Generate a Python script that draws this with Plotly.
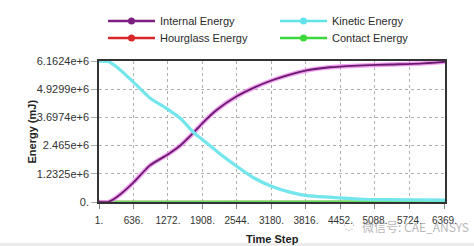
import plotly.graph_objects as go

# ---- data ----
time_step = [1, 170, 330, 630, 940, 1270, 1500, 1740, 1910, 2170, 2540, 2850, 3180,
             3520, 3830, 4260, 4440, 4870, 5370, 5920, 6380]
internal_energy = [0, 0, 0.22e6, 0.84e6, 1.60e6, 2.08e6, 2.47e6, 3.02e6, 3.45e6, 4.02e6,
                   4.62e6, 4.99e6, 5.31e6, 5.57e6, 5.75e6, 5.89e6, 5.92e6, 5.97e6,
                   6.01e6, 6.05e6, 6.13e6]
kinetic_energy = [6.16e6, 6.14e6, 5.90e6, 5.25e6, 4.55e6, 4.05e6, 3.66e6, 3.05e6, 2.72e6,
                  2.22e6, 1.56e6, 1.06e6, 0.69e6, 0.43e6, 0.28e6, 0.21e6, 0.18e6,
                  0.12e6, 0.10e6, 0.09e6, 0.08e6]
hourglass_energy = [0] * len(time_step)
contact_energy = [0, 0, 0.01e6, 0.02e6, 0.02e6, 0.02e6, 0.02e6, 0.02e6, 0.02e6, 0.02e6,
                  0.02e6, 0.02e6, 0.02e6, 0.02e6, 0.02e6, 0.02e6, 0.02e6, 0.02e6,
                  0.02e6, 0.02e6, 0.02e6]

x_ticks = [1, 636, 1272, 1908, 2544, 3180, 3816, 4452, 5088, 5724, 6369]
x_tick_text = ["1.", "636.", "1272.", "1908.", "2544.", "3180.", "3816.", "4452.",
               "5088.", "5724.", "6369."]
y_ticks = [0, 1.2325e6, 2.465e6, 3.6974e6, 4.9299e6, 6.1624e6]
y_tick_text = ["0.", "1.2325e+6", "2.465e+6", "3.6974e+6", "4.9299e+6", "6.1624e+6"]

series_names = ["Internal Energy", "Kinetic Energy", "Hourglass Energy", "Contact Energy"]
legend_colors = ["#7d1f80", "#62e2ea", "#d8262a", "#3ad83a"]

W, H = 474, 246
ML, MR, MT, MB = 99, 29, 61, 44
PW, PH = W - ML - MR, H - MT - MB


def px(x):
    return (x - ML) / PW


def py(y):
    return (H - MB - y) / PH


fig = go.Figure()
fig.add_trace(go.Scatter(x=time_step, y=hourglass_energy, mode="lines",
                         line=dict(color="#c8401a", width=2.5), showlegend=False))
fig.add_trace(go.Scatter(x=time_step, y=contact_energy, mode="lines",
                         line=dict(color="#66e060", width=2.5), showlegend=False))
fig.add_trace(go.Scatter(x=time_step, y=internal_energy, mode="lines",
                         line=dict(color="rgba(235,120,235,0.7)", width=4.5, shape="spline",
                                   smoothing=0.6),
                         showlegend=False))
fig.add_trace(go.Scatter(x=time_step, y=internal_energy, mode="lines",
                         line=dict(color="#6a1a6c", width=1.8, shape="spline",
                                   smoothing=0.6), showlegend=False))
fig.add_trace(go.Scatter(x=time_step, y=kinetic_energy, mode="lines",
                         line=dict(color="#72e6ec", width=3.2, shape="spline",
                                   smoothing=0.6), showlegend=False))

shapes = []
annotations = []
# manual legend
leg_pos = [(108, 21), (280, 21), (108, 38), (280, 38)]
for name, col, (lx, ly) in zip(series_names, legend_colors, leg_pos):
    shapes.append(dict(type="line", xref="paper", yref="paper",
                       x0=px(lx), x1=px(lx + 47), y0=py(ly), y1=py(ly),
                       line=dict(color=col, width=2.5)))
    shapes.append(dict(type="circle", xref="paper", yref="paper",
                       x0=px(lx + 23.5 - 3.5), x1=px(lx + 23.5 + 3.5),
                       y0=py(ly + 3.5), y1=py(ly - 3.5),
                       fillcolor=col, line=dict(color=col, width=0)))
    annotations.append(dict(text=name, xref="paper", yref="paper",
                            x=px(lx + 50), y=py(ly), xanchor="left", yanchor="middle",
                            showarrow=False,
                            font=dict(family="Liberation Sans, Arial", size=11,
                                      color="#2a2a2a")))

# bottom grey strip
shapes.append(dict(type="rect", xref="paper", yref="paper", x0=px(0), x1=px(W),
                   y0=py(246), y1=py(243), fillcolor="#ececec", line=dict(width=0),
                   layer="below"))

annotations.append(dict(text="<b>Energy (mJ)</b>", xref="paper", yref="paper",
                        x=px(31), y=0.5, textangle=-90, showarrow=False,
                        xanchor="center", yanchor="middle",
                        font=dict(family="Liberation Sans, Arial", size=11,
                                  color="#222222")))
annotations.append(dict(text="<b>Time Step</b>", xref="paper", yref="paper",
                        x=0.5, y=py(239), showarrow=False,
                        xanchor="center", yanchor="middle",
                        font=dict(family="Liberation Sans, Arial", size=11,
                                  color="#222222")))
annotations.append(dict(text="微信号: CAE_ANSYS", xref="paper", yref="paper",
                        x=px(360), y=py(226), showarrow=False,
                        xanchor="left", yanchor="middle",
                        font=dict(family="Noto Sans CJK SC", size=12,
                                  color="rgba(150,150,150,0.7)")))
annotations.append(dict(text="◌", xref="paper", yref="paper",
                        x=px(348), y=py(224), showarrow=False,
                        xanchor="center", yanchor="middle",
                        font=dict(family="DejaVu Sans", size=13,
                                  color="rgba(160,160,160,0.7)")))

fig.update_layout(
    width=W, height=H,
    margin=dict(l=ML, r=MR, t=MT, b=MB),
    paper_bgcolor="white", plot_bgcolor="white",
    showlegend=False,
    shapes=shapes, annotations=annotations,
    font=dict(family="Liberation Sans, Arial", size=11, color="#333333"),
)
fig.update_xaxes(range=[1, 6380], tickvals=x_ticks, ticktext=x_tick_text,
                 showgrid=True, gridcolor="#b0b0b0", griddash="3px,3px", gridwidth=1,
                 showline=True, linecolor="#333333", linewidth=1.5, mirror=True,
                 ticks="outside", ticklen=5, tickcolor="#888888",
                 ticklabelstandoff=3,
                 tickfont=dict(size=10, color="#333333"), zeroline=False)
fig.update_yaxes(range=[0, 6.1624e6], tickvals=y_ticks, ticktext=y_tick_text,
                 showgrid=True, gridcolor="#b0b0b0", griddash="3px,3px", gridwidth=1,
                 showline=True, linecolor="#333333", linewidth=1.5, mirror=True,
                 ticks="outside", ticklen=6, tickcolor="#aaaaaa",
                 tickfont=dict(size=11, color="#333333"), zeroline=False)

fig.write_html("out.html")
